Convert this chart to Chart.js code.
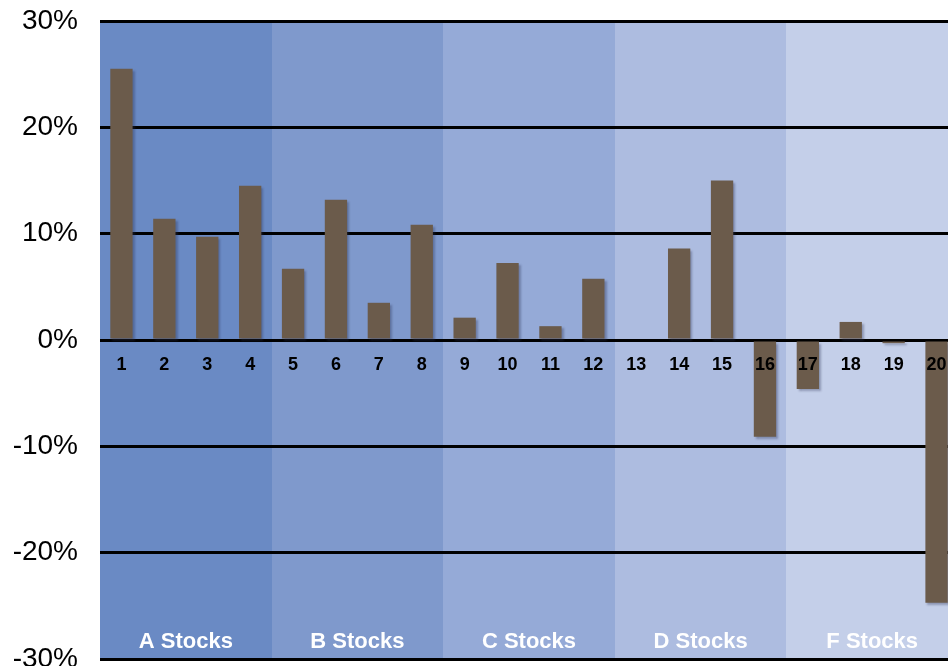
<!DOCTYPE html>
<html>
<head>
<meta charset="utf-8">
<script src="https://cdn.jsdelivr.net/npm/chart.js@4"></script>
<style>
html, body { margin: 0; padding: 0; overflow: hidden; background: #fff; }
#wrap { width: 958px; height: 666px; position: relative; }
</style>
</head>
<body>
<div id="wrap"><canvas id="myChart"></canvas></div>
<script>
// values (percent)
const stockIds = ["1","2","3","4","5","6","7","8","9","10","11","12","13","14","15","16","17","18","19","20"]
const returns = [25.5, 11.4, 9.7, 14.5, 6.7, 13.2, 3.5, 10.85, 2.1, 7.25, 1.3, 5.75, 0, 8.6, 15.0, -9.1, -4.6, 1.7, -0.3, -24.7]
const groupNames = ["A Stocks","B Stocks","C Stocks","D Stocks","F Stocks"]
const groupSizes = [4, 4, 4, 4, 4]
const yTicks = [-30, -20, -10, 0, 10, 20, 30]

const groupColors = ["#6a8ac4", "#7f99cc", "#95aad7", "#adbce0", "#c4cfe9"]
const barColor = "#6b5b4b"

// shaded bands behind each stock group + white group names
const bands = {
    id: "bands",
    beforeDraw(chart) {
        const ctx = chart.ctx
        const x = chart.scales.x
        const area = chart.chartArea
        const slot = x.getPixelForValue(1) - x.getPixelForValue(0)
        let start = 0
        for (let i = 0; i < groupNames.length; i++) {
            const left = Math.round(x.getPixelForValue(start) - slot / 2)
            const right = Math.round(x.getPixelForValue(start + groupSizes[i] - 1) + slot / 2)
            ctx.fillStyle = groupColors[i]
            ctx.fillRect(left, area.top, right - left, area.bottom - area.top)
            start += groupSizes[i]
        }
    },
    beforeDatasetsDraw(chart) {
        const ctx = chart.ctx
        ctx.save()
        ctx.shadowColor = "rgba(40,50,80,0.35)"
        ctx.shadowOffsetX = 2
        ctx.shadowOffsetY = 2
        ctx.shadowBlur = 2
    },
    afterDatasetsDraw(chart) {
        chart.ctx.restore()
    },
    afterDraw(chart) {
        const ctx = chart.ctx
        const x = chart.scales.x
        const y = chart.scales.y
        const slot = x.getPixelForValue(1) - x.getPixelForValue(0)
        ctx.save()
        ctx.fillStyle = "#ffffff"
        ctx.font = "bold 22px 'Liberation Sans', Arial, sans-serif"
        ctx.textAlign = "center"
        ctx.textBaseline = "middle"
        let start = 0
        for (let i = 0; i < groupNames.length; i++) {
            const left = x.getPixelForValue(start) - slot / 2
            const right = x.getPixelForValue(start + groupSizes[i] - 1) + slot / 2
            ctx.fillText(groupNames[i], (left + right) / 2, y.getPixelForValue(yTicks[0]) - 17)
            start += groupSizes[i]
        }
        ctx.restore()
    }
}

new Chart("myChart", {
    type: "bar",
    data: {
        labels: stockIds,
        datasets: [{
            data: returns,
            backgroundColor: barColor,
            borderWidth: 0,
            categoryPercentage: 1,
            barPercentage: 0.52
        }]
    },
    options: {
        responsive: true,
        maintainAspectRatio: false,
        animation: false,
        events: [],
        layout: { autoPadding: false, padding: { top: 21, bottom: 7, left: 0, right: 0 } },
        plugins: {
            legend: { display: false },
            tooltip: { enabled: false }
        },
        scales: {
            x: {
                position: { y: 0 },
                afterFit(scale) { scale.height = 0 },
                grid: { display: false },
                border: { display: false },
                ticks: {
                    z: 1,
                    color: "#000",
                    padding: 6,
                    maxRotation: 0,
                    autoSkip: false,
                    font: { family: "'Liberation Sans', Arial, sans-serif", size: 18, weight: "bold" }
                }
            },
            y: {
                min: yTicks[0],
                max: yTicks[yTicks.length - 1],
                afterFit(scale) {
                    scale.width = 100
                    scale.paddingTop = 0
                    scale.paddingBottom = 0
                },
                afterBuildTicks(scale) { scale.ticks = yTicks.map(v => ({ value: v })) },
                grid: { color: "#000", lineWidth: 3, drawTicks: false },
                border: { display: false },
                ticks: {
                    color: "#000",
                    padding: 22,
                    font: { family: "'Liberation Sans', Arial, sans-serif", size: 28 },
                    callback: v => v + "%"
                }
            }
        }
    },
    plugins: [bands]
})
</script>
</body>
</html>
